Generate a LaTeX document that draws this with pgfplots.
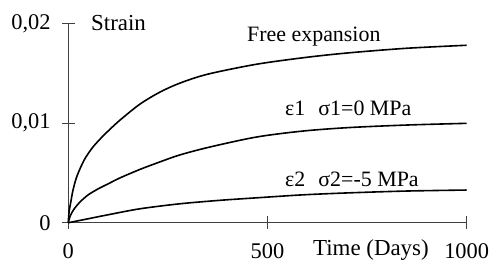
\documentclass[border=0pt]{standalone}
\usepackage{fontspec}
\setmainfont{Liberation Serif}
\usepackage{pgfplots}
\pgfplotsset{compat=1.18}
\begin{document}
\begin{tikzpicture}
\begin{axis}[
  scale only axis,
  width=398.4bp, height=199.4bp,
  xmin=0, xmax=1000, ymin=0, ymax=0.02,
  axis lines=left,
  axis line style={-, line width=0.6bp, black!75},
  clip=false,
  scaled y ticks=false,
  xtick={0,500,1000},
  xticklabels={0,500,1000},
  ytick={0,0.01,0.02},
  yticklabels={0,{0,01},{0,02}},
  tick align=center,
  major tick length=13bp,
  tick style={line width=0.6bp, black!75},
  every tick label/.append style={font=\fontsize{22.5}{26}\selectfont, inner sep=0pt},
  xticklabel style={anchor=base, yshift=-29bp},
  yticklabel style={anchor=east, xshift=-11bp},
]
\addplot[line width=1.6bp, smooth, tension=0.5] coordinates {
(0,0) (2,0.0011) (6,0.0020) (12,0.0033) (22,0.0047) (40,0.0063) (60,0.0075)
(80,0.0084) (100,0.0092) (130,0.0103) (180,0.0119) (230,0.0131)
(280,0.0140) (350,0.0149) (473,0.0159) (600,0.0166)
(707,0.01705) (850,0.0175) (1000,0.0178)};
\addplot[line width=1.6bp, smooth, tension=0.5] coordinates {
(0,0) (5,0.0007) (15,0.0014) (30,0.0021) (50,0.0028) (75,0.0034) (100,0.0039)
(130,0.0045) (180,0.00535) (230,0.0061) (280,0.0068) (356,0.0076) (473,0.0086)
(590,0.0092) (707,0.00955) (850,0.0098) (1000,0.00997)};
\addplot[line width=1.6bp, smooth, tension=0.5] coordinates {
(0,0) (50,0.0004) (100,0.0008) (180,0.0014) (280,0.0019) (381,0.00225)
(473,0.0025) (590,0.0028) (707,0.0030) (850,0.00318) (1000,0.00328)};
\node[anchor=base west, inner sep=0pt, font=\fontsize{23}{26}\selectfont] at (axis cs:57,0.01933) {Strain};
\node[anchor=base west, inner sep=0pt, font=\fontsize{22}{26}\selectfont] at (axis cs:448.5,0.01815) {Free expansion};
\node[anchor=base west, inner sep=0pt, font=\fontsize{22}{26}\selectfont] at (axis cs:543.7,0.0108) {ε1\hspace{0.6em}σ1=0 MPa};
\node[anchor=base west, inner sep=0pt, font=\fontsize{22}{26}\selectfont] at (axis cs:543.7,0.00361) {ε2\hspace{0.6em}σ2=-5 MPa};
\node[anchor=base west, inner sep=0pt, font=\fontsize{23}{26}\selectfont] at (axis cs:614,-0.00324) {Time (Days)};
\path (axis cs:-171.4,-0.004544) rectangle (axis cs:1066,0.02234);
\end{axis}
\end{tikzpicture}
\end{document}
